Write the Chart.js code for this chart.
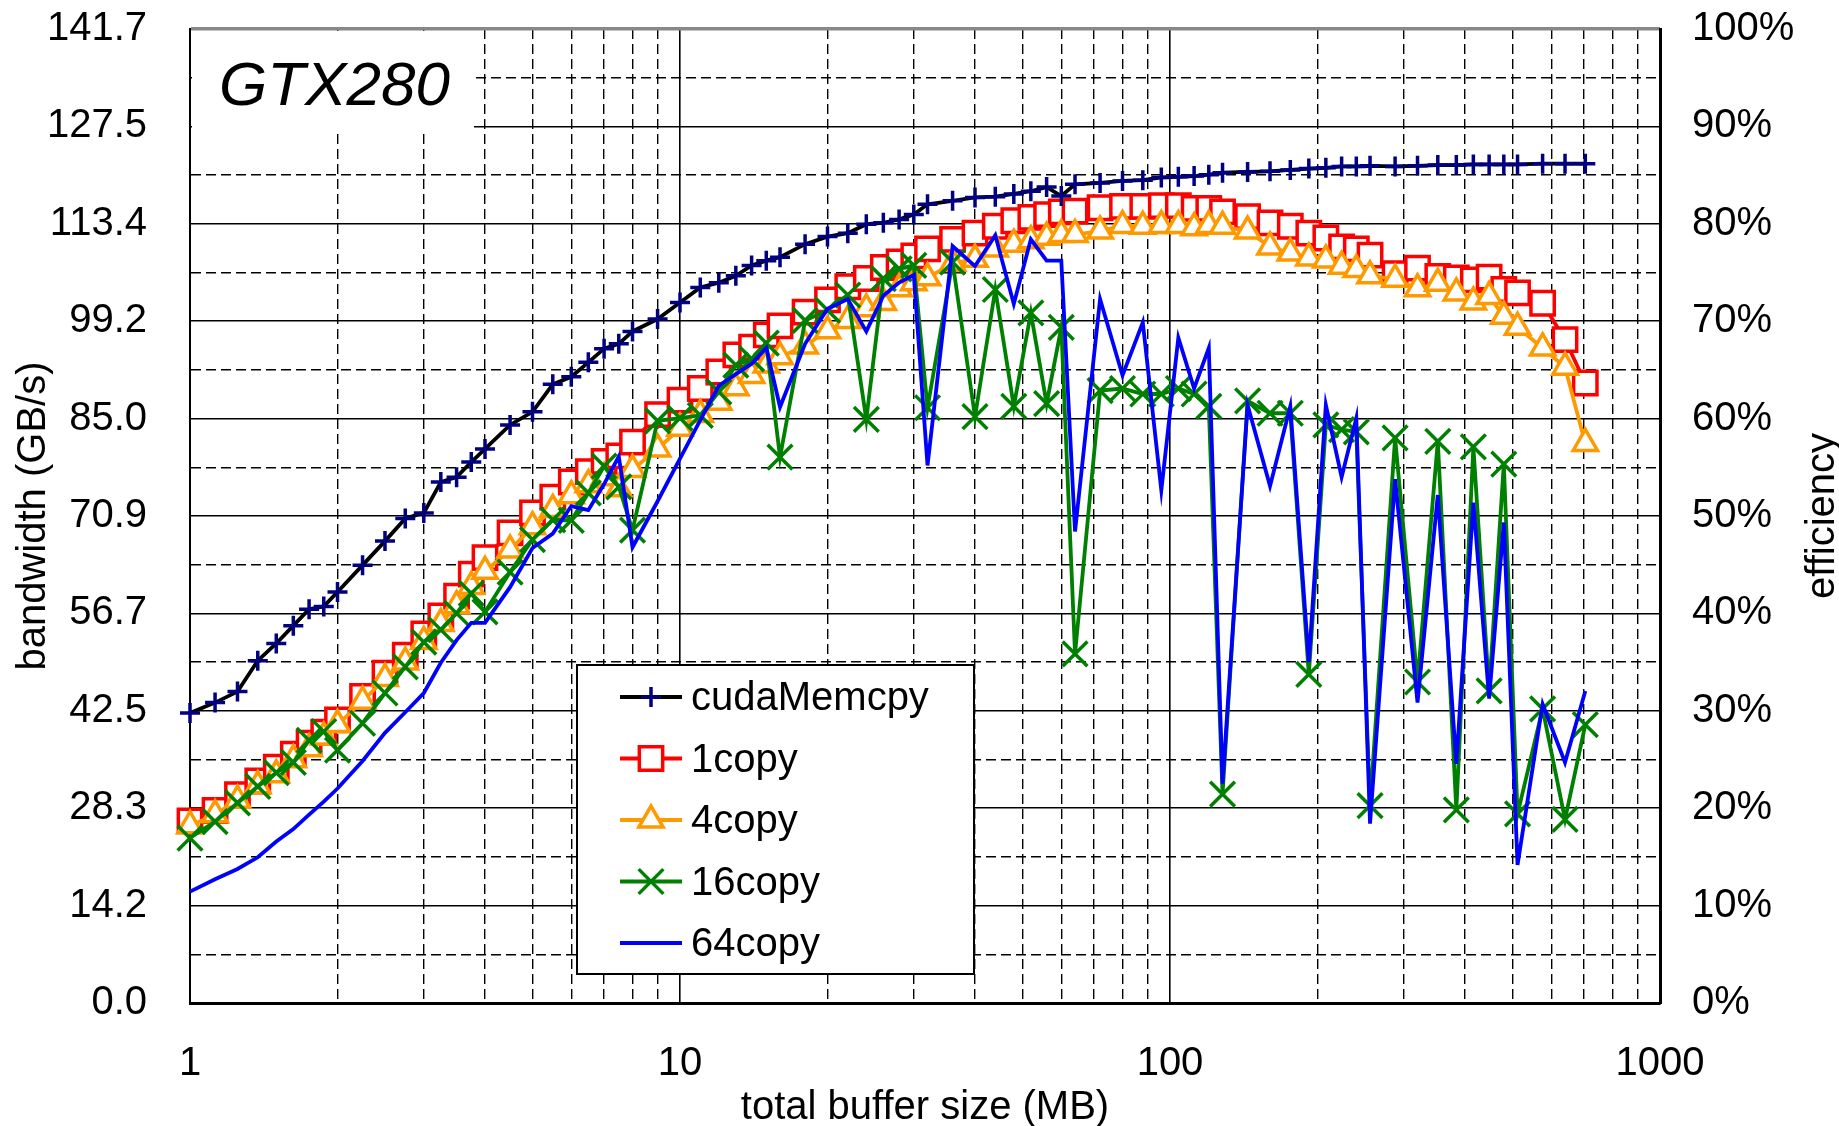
<!DOCTYPE html>
<html>
<head>
<meta charset="utf-8">
<script src="https://cdn.jsdelivr.net/npm/chart.js@4.4.1/dist/chart.umd.min.js"></script>
<style>
  html, body { margin: 0; padding: 0; background: #fff; }
  #chart { display: block; }
</style>
</head>
<body>
<canvas id="chart" width="1839" height="1126"></canvas>
<script>
// buffer sizes in MB (8 steps per octave)
const sizes = [
  1, 1.125, 1.25, 1.375, 1.5, 1.625, 1.75, 1.875,
  2, 2.25, 2.5, 2.75, 3, 3.25, 3.5, 3.75,
  4, 4.5, 5, 5.5, 6, 6.5, 7, 7.5,
  8, 9, 10, 11, 12, 13, 14, 15,
  16, 18, 20, 22, 24, 26, 28, 30,
  32, 36, 40, 44, 48, 52, 56, 60,
  64, 72, 80, 88, 96, 104, 112, 120,
  128, 144, 160, 176, 192, 208, 224, 240,
  256, 288, 320, 352, 384, 416, 448, 480,
  512, 576, 640, 704
];

// bandwidth in GB/s
const cudaMemcpy = [
  42.2, 43.7, 45.3, 49.8, 52.3, 54.9, 57.3, 57.7,
  59.8, 63.7, 67.2, 70.5, 71.3, 75.8, 76.5, 78.7,
  80.6, 84.1, 86.0, 90.0, 91.1, 93.2, 95.2, 95.9,
  97.7, 99.5, 101.9, 104.1, 104.8, 105.8, 107.3, 108.0,
  108.5, 110.4, 111.5, 112.0, 113.3, 113.5, 114.0, 114.7,
  116.2, 116.7, 117.2, 117.3, 117.7, 118.1, 118.7, 117.4,
  119.1, 119.3, 119.6, 119.7, 120.1, 120.2, 120.3, 120.5,
  120.8, 120.9, 121.0, 121.2, 121.4, 121.5, 121.7, 121.7,
  121.8, 121.7, 121.8, 121.9, 121.9, 122.0, 122.0, 122.0,
  122.0, 122.1, 122.1, 122.1
];
const copy1 = [
  26.5, 28.0, 30.3, 32.3, 34.3, 36.2, 37.8, 39.4,
  41.2, 44.6, 48.0, 50.6, 53.7, 56.3, 59.2, 62.4,
  64.8, 68.4, 71.3, 73.6, 75.8, 77.3, 78.8, 79.6,
  81.6, 85.6, 87.7, 89.4, 91.8, 94.3, 95.4, 97.2,
  98.5, 100.5, 102.3, 104.2, 105.4, 107.0, 107.8, 108.7,
  109.7, 111.1, 112.0, 113.0, 113.8, 114.3, 114.7, 115.1,
  115.2, 115.7, 115.9, 115.9, 116.0, 116.0, 115.6, 115.6,
  115.1, 114.4, 113.5, 113.0, 112.0, 111.3, 110.0, 109.7,
  108.8, 106.1, 106.9, 105.7, 105.5, 105.2, 105.6, 103.8,
  103.3, 101.8, 96.5, 90.2
];
const copy4 = [
  25.8, 27.4, 29.5, 31.6, 33.2, 35.4, 37.0, 38.7,
  40.5, 43.9, 47.2, 49.6, 52.6, 55.2, 57.8, 60.6,
  62.8, 65.9, 69.3, 71.8, 73.8, 75.4, 76.4, 74.8,
  77.6, 80.6, 83.6, 85.6, 87.4, 89.5, 91.3, 92.8,
  94.0, 95.6, 97.8, 99.3, 101.0, 101.9, 103.9, 104.8,
  105.5, 107.6, 108.2, 109.7, 110.4, 110.9, 111.4, 111.8,
  111.8, 112.3, 113.1, 113.0, 113.1, 113.1, 112.8, 113.1,
  113.0, 112.3, 110.0, 109.1, 108.4, 108.1, 107.2, 106.7,
  105.8, 105.3, 103.9, 104.7, 103.3, 102.0, 102.8, 99.9,
  98.3, 95.3, 92.5, 81.4
];
const copy16 = [
  24.0, 26.4, 29.1, 31.5, 33.5, 35.0, 38.2, 39.5,
  36.8, 40.7, 45.1, 48.9, 52.5, 54.3, 56.7, 59.6,
  56.9, 62.7, 67.4, 70.3, 70.2, 74.2, 78.1, 75.1,
  68.8, 84.7, 85.1, 85.5, 88.9, 92.8, 93.7, 96.0,
  79.4, 99.3, 100.8, 103.0, 84.9, 105.4, 106.8, 107.3,
  86.6, 107.8, 85.3, 103.8, 86.8, 100.4, 87.2, 98.3,
  50.8, 89.1, 89.4, 88.6, 88.6, 89.4, 88.6, 86.8,
  30.4, 87.6, 85.8, 85.8, 47.8, 84.1, 83.4, 83.1,
  28.7, 82.2, 46.7, 81.7, 28.1, 80.9, 45.4, 78.4,
  27.5, 42.8, 26.7, 40.5
];
const copy64 = [
  16.2, 18.0, 19.5, 21.2, 23.5, 25.3, 27.4, 29.3,
  31.2, 35.2, 39.3, 42.3, 45.1, 49.5, 52.8, 55.3,
  55.3, 60.5, 66.2, 68.3, 72.3, 71.7, 75.5, 79.5,
  66.3, 73.0, 79.2, 84.8, 89.8, 91.5, 93.0, 95.3,
  86.7, 95.9, 101.0, 102.4, 97.7, 102.9, 104.8, 105.9,
  78.2, 110.1, 107.2, 111.7, 101.7, 111.1, 108.0, 108.0,
  68.6, 102.4, 91.3, 99.0, 74.6, 96.8, 89.4, 95.3,
  31.9, 87.0, 75.2, 86.8, 49.6, 87.0, 76.5, 85.1,
  26.1, 76.2, 43.7, 73.9, 34.8, 72.8, 44.3, 69.9,
  20.1, 43.5, 35.0, 45.4
];

const yMax = 141.7;
const yTickLabels = ['0.0', '14.2', '28.3', '42.5', '56.7', '70.9', '85.0', '99.2', '113.4', '127.5', '141.7'];
const effTickLabels = ['0%', '10%', '20%', '30%', '40%', '50%', '60%', '70%', '80%', '90%', '100%'];
const xTickLabels = [1, 10, 100, 1000];

const FONT = "'Liberation Sans', Arial, sans-serif";
Chart.defaults.font.family = FONT;
Chart.defaults.font.size = 40;
Chart.defaults.color = '#000';

// log grid: 1..9, 10..90, 100..900, 1000
const xGrid = [];
for (const d of [1, 10, 100]) {
  for (let m = 1; m <= 9; m++) xGrid.push(m * d);
}
xGrid.push(1000);

const pts = arr => arr.map((v, i) => ({x: sizes[i], y: v}));
const isMajorX = ctx => ctx.tick && xTickLabels.includes(ctx.tick.value);
const noPad = axis => { axis.paddingTop = 0; axis.paddingBottom = 0; axis.paddingLeft = 0; axis.paddingRight = 0; };

const base = {borderWidth: 3.8, fill: false, tension: 0, clip: false, pointBorderWidth: 3.5, pointBackgroundColor: '#fff'};

const datasets = [
  Object.assign({}, base, {label: 'cudaMemcpy', data: pts(cudaMemcpy), borderColor: '#000000',
    pointStyle: 'cross', pointRadius: 10, pointBorderColor: '#000080', order: 0}),
  Object.assign({}, base, {label: '1copy', data: pts(copy1), borderColor: '#ff0000',
    pointStyle: 'rect', pointRadius: 16.5, pointBorderColor: '#ff0000', order: 4}),
  Object.assign({}, base, {label: '4copy', data: pts(copy4), borderColor: '#ff9900',
    pointStyle: 'triangle', pointRadius: 14, pointBorderColor: '#ff9900', order: 3}),
  Object.assign({}, base, {label: '16copy', data: pts(copy16), borderColor: '#008000',
    pointStyle: 'crossRot', pointRadius: 17.5, pointBorderColor: '#008000', order: 2}),
  Object.assign({}, base, {label: '64copy', data: pts(copy64), borderColor: '#0000ff',
    pointStyle: false, pointRadius: 0, order: 1})
];

const overlay = {
  id: 'overlay',
  afterDraw(chart) {
    const {ctx, chartArea: a} = chart;
    ctx.save();

    // GTX280 label
    ctx.fillStyle = '#fff';
    ctx.fillRect(a.left + 2, a.top + 2, 282, 100);
    ctx.fillStyle = '#000';
    ctx.font = 'italic 62px ' + FONT;
    ctx.textAlign = 'left';
    ctx.textBaseline = 'alphabetic';
    ctx.fillText('GTX280', a.left + 29, a.top + 76);

    // legend
    const bx = a.left + 387, by = a.top + 636, bw = 397, bh = 309;
    ctx.fillStyle = '#fff';
    ctx.fillRect(bx, by, bw, bh);
    ctx.strokeStyle = '#000';
    ctx.lineWidth = 2;
    ctx.strokeRect(bx, by, bw, bh);
    ctx.font = '40px ' + FONT;
    chart.data.datasets.forEach((ds, i) => {
      const y = by + 32 + i * 61.5;
      const x0 = bx + 43, x1 = bx + 105;
      ctx.strokeStyle = ds.borderColor;
      ctx.lineWidth = ds.borderWidth;
      ctx.beginPath();
      ctx.moveTo(x0, y);
      ctx.lineTo(x1, y);
      ctx.stroke();
      if (ds.pointStyle) {
        ctx.strokeStyle = ds.pointBorderColor;
        ctx.fillStyle = ds.pointBackgroundColor;
        ctx.lineWidth = ds.pointBorderWidth;
        Chart.helpers.drawPoint(ctx, {pointStyle: ds.pointStyle, radius: ds.pointRadius,
          borderWidth: ds.pointBorderWidth, rotation: 0}, (x0 + x1) / 2, y);
      }
      ctx.fillStyle = '#000';
      ctx.fillText(ds.label, bx + 114, y + 13);
    });

    // axis titles
    const midY = (a.top + a.bottom) / 2;
    ctx.font = '40px ' + FONT;
    ctx.fillStyle = '#000';
    ctx.textAlign = 'center';
    ctx.textBaseline = 'alphabetic';
    ctx.save();
    ctx.translate(45, midY);
    ctx.rotate(-Math.PI / 2);
    ctx.fillText('bandwidth (GB/s)', 0, 0);
    ctx.restore();
    ctx.save();
    ctx.translate(1834, midY);
    ctx.rotate(-Math.PI / 2);
    ctx.fillText('efficiency', 0, 0);
    ctx.restore();
    ctx.fillText('total buffer size (MB)', (a.left + a.right) / 2, 1119);

    ctx.restore();
  }
};

new Chart(document.getElementById('chart').getContext('2d'), {
  type: 'line',
  data: {datasets: datasets},
  options: {
    responsive: false,
    animation: false,
    devicePixelRatio: 1,
    events: [],
    layout: {padding: {top: 29, left: 0, right: 0, bottom: 0}},
    plugins: {legend: {display: false}, tooltip: {enabled: false}},
    scales: {
      x: {
        type: 'logarithmic',
        min: 1,
        max: 1000,
        afterBuildTicks: axis => { axis.ticks = xGrid.map(v => ({value: v})); },
        afterFit: axis => { axis.height = 123; noPad(axis); },
        ticks: {
          autoSkip: false, maxRotation: 0, padding: 37,
          callback: v => xTickLabels.includes(v) ? String(v) : ''
        },
        grid: {
          drawTicks: false,
          color: '#000',
          lineWidth: ctx => isMajorX(ctx) ? 1.6 : 1.4
        },
        border: {
          color: '#000', width: 3,
          dash: ctx => (ctx.type === 'tick' && !isMajorX(ctx)) ? [10, 5] : []
        }
      },
      y: {
        type: 'linear',
        position: 'left',
        min: 0,
        max: yMax,
        afterBuildTicks: axis => {
          axis.ticks = Array.from({length: 21}, (_, i) => ({value: yMax * i / 20}));
        },
        afterFit: axis => { axis.width = 190; noPad(axis); },
        ticks: {autoSkip: false, padding: 43, callback: (v, i) => i % 2 === 0 ? yTickLabels[i / 2] : ''},
        grid: {
          drawTicks: false,
          color: ctx => ctx.index === 20 ? '#888' : '#000',
          lineWidth: ctx => ctx.index === 20 ? 3.5 : (ctx.index % 2 ? 1.4 : 1.6)
        },
        border: {
          color: '#000', width: 2,
          dash: ctx => (ctx.type === 'tick' && ctx.index % 2) ? [10, 5] : []
        }
      },
      y2: {
        type: 'linear',
        position: 'right',
        min: 0,
        max: 100,
        afterBuildTicks: axis => { axis.ticks = effTickLabels.map((_, i) => ({value: i * 10})); },
        afterFit: axis => { axis.width = 179; noPad(axis); },
        ticks: {autoSkip: false, padding: 32, callback: (v, i) => effTickLabels[i]},
        grid: {drawOnChartArea: false, drawTicks: false},
        border: {color: '#000', width: 3}
      }
    }
  },
  plugins: [overlay]
});
</script>
</body>
</html>
